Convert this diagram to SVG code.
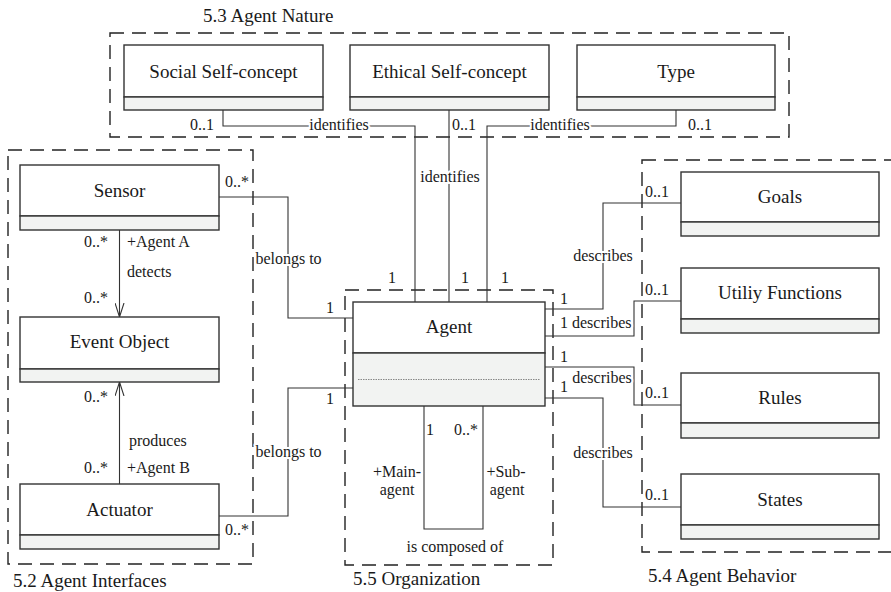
<svg xmlns="http://www.w3.org/2000/svg" width="891" height="592" viewBox="0 0 891 592" font-family="'Liberation Serif', 'DejaVu Serif', serif">
<defs>
<style>
text{font-family:'Liberation Serif','DejaVu Serif',serif;fill:#1a1a1a}
.name{font-size:19px;text-anchor:middle}
.title{font-size:19px}
.lbl{font-size:16px;stroke:#fff;stroke-width:4px;paint-order:stroke;stroke-linejoin:round}
.mid{text-anchor:middle}
.grp{fill:none;stroke:#222;stroke-width:1.4;stroke-dasharray:14 8}
.box{fill:#fff;stroke:#333;stroke-width:1.4}
.comp{fill:#f2f3f2;stroke:#333;stroke-width:1.4}
.con{fill:none;stroke:#333;stroke-width:1.1}
</style>
<marker id="open" viewBox="0 0 14 10" refX="14" refY="5" markerWidth="14" markerHeight="10" markerUnits="userSpaceOnUse" orient="auto">
<path d="M0,0.5 L14,5 L0,9.5" fill="none" stroke="#333" stroke-width="1.1"/>
</marker>
</defs>
<rect width="891" height="592" fill="#fff"/>

<g id="groups">
<rect class="grp" x="110" y="33" width="679" height="104"/>
<rect class="grp" x="8" y="150" width="245" height="414"/>
<rect class="grp" x="345" y="290" width="208" height="275"/>
<rect class="grp" x="642" y="160" width="270" height="392"/>
<text class="title" x="203" y="22">5.3 Agent Nature</text>
<text class="title" x="13" y="587">5.2 Agent Interfaces</text>
<text class="title" x="353" y="585">5.5 Organization</text>
<text class="title" x="648" y="582">5.4 Agent Behavior</text>
</g>

<g id="connectors">
<polyline class="con" points="223,110 223,126 415,126 415,302"/>
<polyline class="con" points="449,110 449,302"/>
<polyline class="con" points="676,110 676,126 487,126 487,302"/>
<polyline class="con" points="219,197 288,197 288,318 353,318"/>
<polyline class="con" points="219,516 288,516 288,388 353,388"/>
<line class="con" x1="119.5" y1="230" x2="119.5" y2="317" marker-end="url(#open)"/>
<line class="con" x1="119.5" y1="484" x2="119.5" y2="382" marker-end="url(#open)"/>
<polyline class="con" points="424,406 424,529 483,529 483,406"/>
<polyline class="con" points="545,309 603,309 603,203 681,203"/>
<polyline class="con" points="545,336 634,336 634,301 681,301"/>
<polyline class="con" points="545,367 634,367 634,405 681,405"/>
<polyline class="con" points="545,398 603,398 603,507 681,507"/>
</g>

<g id="social">
<rect class="box" x="124" y="45" width="199" height="52"/>
<rect class="comp" x="124" y="97" width="199" height="13"/>
<text class="name" x="223.5" y="78">Social Self-concept</text>
</g>
<g id="ethical">
<rect class="box" x="350" y="45" width="199" height="52"/>
<rect class="comp" x="350" y="97" width="199" height="13"/>
<text class="name" x="449.5" y="78">Ethical Self-concept</text>
</g>
<g id="type">
<rect class="box" x="577" y="45" width="198" height="52"/>
<rect class="comp" x="577" y="97" width="198" height="13"/>
<text class="name" x="676" y="78">Type</text>
</g>
<g id="sensor">
<rect class="box" x="20" y="165" width="199" height="51"/>
<rect class="comp" x="20" y="216" width="199" height="14"/>
<text class="name" x="119.5" y="197">Sensor</text>
</g>
<g id="event-object">
<rect class="box" x="20" y="317" width="199" height="52"/>
<rect class="comp" x="20" y="369" width="199" height="13"/>
<text class="name" x="119.5" y="348">Event Object</text>
</g>
<g id="actuator">
<rect class="box" x="20" y="484" width="199" height="51"/>
<rect class="comp" x="20" y="535" width="199" height="14"/>
<text class="name" x="119.5" y="516">Actuator</text>
</g>
<g id="agent">
<rect class="box" x="353" y="302" width="192" height="51"/>
<rect class="comp" x="353" y="353" width="192" height="53"/>
<line x1="358" y1="379.5" x2="540" y2="379.5" stroke="#888" stroke-width="1" stroke-dasharray="1.5 1"/>
<text class="name" x="449" y="333">Agent</text>
</g>
<g id="goals">
<rect class="box" x="681" y="172" width="198" height="50"/>
<rect class="comp" x="681" y="222" width="198" height="14"/>
<text class="name" x="780" y="203">Goals</text>
</g>
<g id="utility-functions">
<rect class="box" x="681" y="268" width="198" height="51"/>
<rect class="comp" x="681" y="319" width="198" height="14"/>
<text class="name" x="780" y="299">Utiliy Functions</text>
</g>
<g id="rules">
<rect class="box" x="681" y="373" width="198" height="50"/>
<rect class="comp" x="681" y="423" width="198" height="15"/>
<text class="name" x="780" y="404">Rules</text>
</g>
<g id="states">
<rect class="box" x="681" y="474" width="198" height="51"/>
<rect class="comp" x="681" y="525" width="198" height="14"/>
<text class="name" x="780" y="506">States</text>
</g>

<g id="labels">
<text class="lbl" x="190" y="130">0..1</text>
<text class="lbl mid" x="339" y="130">identifies</text>
<text class="lbl" x="452" y="130">0..1</text>
<text class="lbl mid" x="560" y="130">identifies</text>
<text class="lbl" x="688" y="130">0..1</text>
<text class="lbl mid" x="450" y="182">identifies</text>
<text class="lbl mid" x="392" y="283">1</text>
<text class="lbl mid" x="465" y="283">1</text>
<text class="lbl mid" x="505" y="283">1</text>

<text class="lbl" x="225" y="187">0..*</text>
<text class="lbl" x="84" y="247">0..*</text>
<text class="lbl" x="127" y="247">+Agent A</text>
<text class="lbl" x="127" y="277">detects</text>
<text class="lbl" x="84" y="303">0..*</text>
<text class="lbl mid" x="288.5" y="264">belongs to</text>
<text class="lbl" x="326" y="313">1</text>
<text class="lbl" x="84" y="402">0..*</text>
<text class="lbl" x="129" y="446">produces</text>
<text class="lbl" x="84" y="473">0..*</text>
<text class="lbl" x="127" y="473">+Agent B</text>
<text class="lbl mid" x="288.5" y="457">belongs to</text>
<text class="lbl" x="326" y="404">1</text>
<text class="lbl" x="225" y="535">0..*</text>

<text class="lbl mid" x="430" y="435">1</text>
<text class="lbl" x="454" y="435">0..*</text>
<text class="lbl mid" x="397" y="477">+Main-</text>
<text class="lbl mid" x="397" y="495">agent</text>
<text class="lbl mid" x="506" y="477">+Sub-</text>
<text class="lbl mid" x="507" y="495">agent</text>
<text class="lbl mid" x="455" y="552">is composed of</text>

<text class="lbl" x="560" y="304">1</text>
<text class="lbl mid" x="603" y="261">describes</text>
<text class="lbl" x="645" y="197">0..1</text>
<text class="lbl" x="560" y="328">1 describes</text>
<text class="lbl" x="645" y="295">0..1</text>
<text class="lbl" x="560" y="362">1</text>
<text class="lbl mid" x="602" y="383">describes</text>
<text class="lbl" x="560" y="392">1</text>
<text class="lbl" x="645" y="398">0..1</text>
<text class="lbl mid" x="603" y="458">describes</text>
<text class="lbl" x="645" y="500">0..1</text>
</g>
</svg>
